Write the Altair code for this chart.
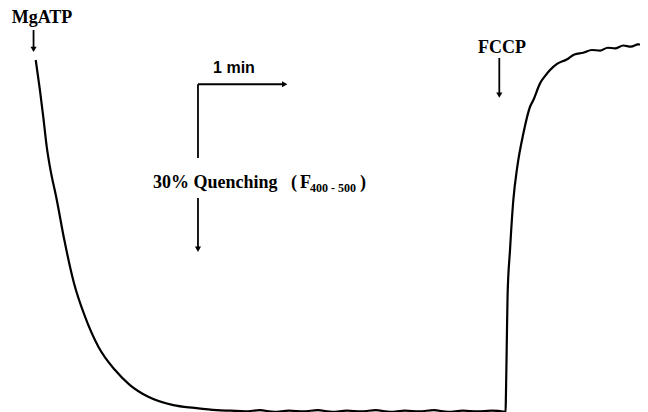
import altair as alt
import pandas as pd

# Fluorescence trace (time in s after MgATP, fluorescence in % of initial)
t_drop = [0.5, 3.4, 5.7, 8.1, 10.3, 15.0, 20.2, 26.9, 34.5, 43.7, 55.2, 65.5, 78.1, 95.4, 110.0, 125.3]
f_drop = [100.0, 94.6, 89.8, 84.4, 80.8, 74.9, 67.7, 59.9, 53.9, 48.5, 44.3, 41.6, 39.5, 38.0, 37.5, 37.1]

t_flat = [135, 145, 155, 165, 175, 185, 195, 205, 215, 225, 235, 245, 255, 265, 275, 285, 295, 305, 315, 324.0]
f_flat = [37.0, 36.9, 37.1, 36.8, 37.0, 36.9, 37.1, 36.8, 37.0, 36.9, 37.1, 36.8, 37.0, 36.9, 37.1, 36.8, 37.0, 36.9, 37.0, 36.8]

t_rise = [324.5, 324.8, 325.3, 325.9, 327.6, 329.9, 332.6, 336.8, 341.4, 343.7, 348.3, 352.0, 355.2, 360.0,
          366.7, 372.0, 378.1, 384.0, 389.7, 395.0, 400.0, 405.7, 411.0, 416.0, 421.9]
f_rise = [36.6, 40.0, 48.0, 57.5, 65.9, 74.9, 80.8, 86.8, 91.6, 92.8, 95.8, 97.2, 98.2, 99.3,
          100.1, 101.0, 101.3, 101.8, 101.7, 102.2, 102.1, 102.6, 102.4, 102.8, 102.6]

times = t_drop + t_flat + t_rise
fluor = f_drop + f_flat + f_rise
trace = pd.DataFrame({"t": times, "F": fluor})

X_DOMAIN = [-18.62, 417.24]
Y_DOMAIN = [36.77, 109.34]
xs = alt.Scale(domain=X_DOMAIN, nice=False, zero=False)
ys = alt.Scale(domain=Y_DOMAIN, nice=False, zero=False)

line = alt.Chart(trace).mark_line(
    color="black", strokeWidth=2.2, clip=False, interpolate="monotone"
).encode(
    x=alt.X("t:Q", scale=xs, axis=None),
    y=alt.Y("F:Q", scale=ys, axis=None),
    order="t:Q",
)

# Arrow shafts
rule_t = [-1.0, 320.2, 112.4, 112.4, 112.4]
rule_t2 = [-1.0, 320.2, 171.5, 112.4, 112.4]
rule_f = [105.39, 100.36, 95.64, 95.64, 75.21]
rule_f2 = [102.0, 94.0, 95.64, 82.40, 66.3]
rules = pd.DataFrame({"t": rule_t, "t2": rule_t2, "F": rule_f, "F2": rule_f2})
shafts = alt.Chart(rules).mark_rule(color="black", strokeWidth=1.8).encode(
    x=alt.X("t:Q", scale=xs, axis=None), x2="t2:Q",
    y=alt.Y("F:Q", scale=ys, axis=None), y2="F2:Q",
)

# Arrow heads
head_t = [-1.0, 320.2, 112.4, 172.2]
head_f = [101.9, 93.7, 66.0, 95.64]
head_shape = ["triangle-down", "triangle-down", "triangle-down", "triangle-right"]
heads = pd.DataFrame({"t": head_t, "F": head_f, "shape": head_shape})
arrowheads = alt.Chart(heads).mark_point(filled=True, color="black", opacity=1, size=38).encode(
    x=alt.X("t:Q", scale=xs, axis=None),
    y=alt.Y("F:Q", scale=ys, axis=None),
    shape=alt.Shape("shape:N", scale=None, legend=None),
)

# Labels (serif bold)
lab_text = ["MgATP", "FCCP", "30% Quenching", "(", "F", ")"]
lab_t = [-16.1, 305.5, 81.4, 176.5, 182.8, 224.1]
lab_f = [106.7, 101.26, 77.01, 77.01, 77.01, 77.01]
labels = pd.DataFrame({"t": lab_t, "F": lab_f, "txt": lab_text})
serif_text = alt.Chart(labels).mark_text(
    font="Liberation Serif", fontWeight="bold", fontSize=18, align="left",
    baseline="alphabetic", color="black",
).encode(
    x=alt.X("t:Q", scale=xs, axis=None),
    y=alt.Y("F:Q", scale=ys, axis=None),
    text="txt:N",
)

sub = pd.DataFrame({"t": [189.7], "F": [76.35], "txt": ["400 - 500"]})
sub_text = alt.Chart(sub).mark_text(
    font="Liberation Serif", fontWeight="bold", fontSize=12, align="left",
    baseline="alphabetic", color="black",
).encode(
    x=alt.X("t:Q", scale=xs, axis=None),
    y=alt.Y("F:Q", scale=ys, axis=None),
    text="txt:N",
)

minlab = pd.DataFrame({"t": [122.8], "F": [97.66], "txt": ["1 min"]})
min_text = alt.Chart(minlab).mark_text(
    font="Liberation Sans", fontWeight="bold", fontSize=16, align="left",
    baseline="alphabetic", color="black",
).encode(
    x=alt.X("t:Q", scale=xs, axis=None),
    y=alt.Y("F:Q", scale=ys, axis=None),
    text="txt:N",
)

chart = alt.layer(line, shafts, arrowheads, serif_text, sub_text, min_text).properties(
    width=632, height=404, padding=0, autosize=alt.AutoSizeParams(type="none"),
    background="white",
).configure_view(stroke=None)

chart.save("out.html", embed_options={"renderer": "svg", "actions": False})
